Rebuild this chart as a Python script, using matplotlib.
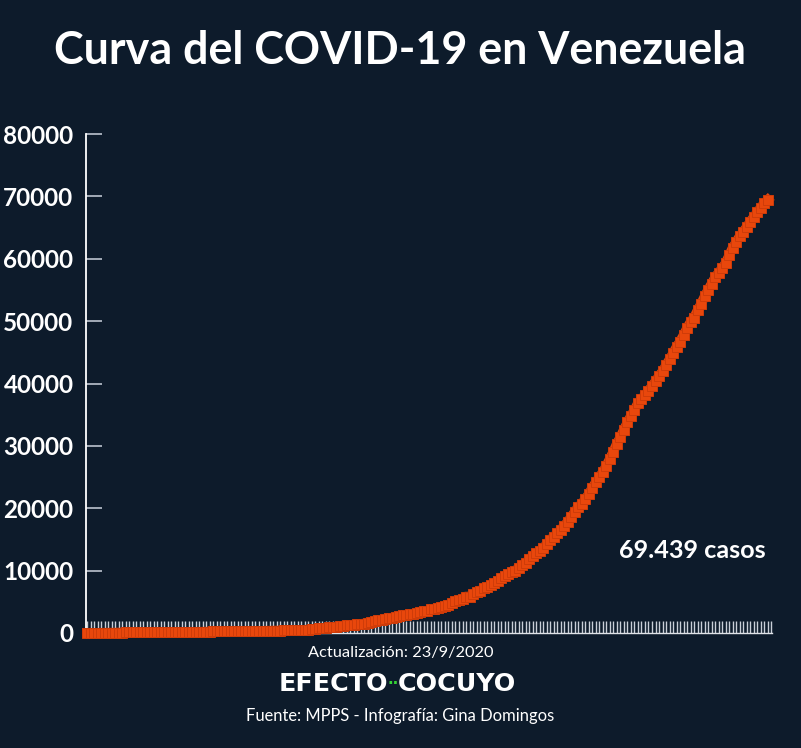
import numpy as np
from matplotlib import pyplot as plt

# Casos acumulados, del 13/3/2020 al 23/9/2020 (un valor por dia)
casos_marzo = [2, 10, 17, 33, 36, 36, 42, 42, 70, 77, 77, 84, 91, 107, 107, 119, 119, 135, 135]
casos_abril = [143, 146, 153, 155, 159, 165, 166, 167, 171, 175, 181, 181, 189, 189, 197,
               204, 227, 256, 256, 285, 288, 298, 311, 318, 323, 325, 329, 329, 331, 333]
casos_mayo = [335, 345, 357, 361, 379, 381, 388, 402, 414, 422, 440, 455, 459, 504, 541,
              611, 618, 749, 749, 824, 882, 944, 1010, 1121, 1177, 1211, 1245, 1325, 1370, 1459, 1510]
casos_junio = [1662, 1819, 1952, 2087, 2145, 2316, 2377, 2473, 2632, 2738, 2814, 2879, 2978, 3062, 3150,
               3386, 3483, 3591, 3789, 3917, 4048, 4186, 4365, 4563, 4779, 5130, 5297, 5530, 5832, 5832]
casos_julio = [6273, 6537, 6750, 7169, 7411, 7693, 8010, 8372, 8803, 9178, 9465, 9707, 10010, 10428, 10854,
               11191, 11891, 12334, 12774, 13164, 13613, 14263, 14929, 15463, 15988, 16571, 17158, 17859,
               18574, 19443, 20206]
casos_agosto = [20754, 21438, 22299, 23280, 24166, 24961, 25805, 26800, 27938, 29088, 30369, 31381, 32607,
                33755, 34802, 35697, 36868, 37489, 38140, 38840, 39564, 40338, 41193, 41939, 42898, 43879,
                44825, 45868, 46728, 47756, 48883]
casos_sept = [49877, 50574, 51739, 52769, 53958, 55012, 55990, 57003, 57793, 58441, 59316, 60540, 61770,
              62655, 63626, 64284, 65114, 65907, 66701, 67428, 68200, 68883, 69439]

casos = casos_marzo + casos_abril + casos_mayo + casos_junio + casos_julio + casos_agosto + casos_sept
dias = np.arange(len(casos))

y_ticks = [0, 10000, 20000, 30000, 40000, 50000, 60000, 70000, 80000]

fondo = '#0d1b2b'
naranja = '#e8470c'

fig = plt.figure(figsize=(8.01, 7.48), dpi=100, facecolor=fondo)
ax = fig.add_axes([86 / 801, 1 - 633 / 748, (772 - 86) / 801, (633 - 134) / 748])
ax.set_facecolor(fondo)

# =================== Curva
ax.plot(dias, casos, color=naranja, linewidth=7, marker='s', markersize=6.5,
        markerfacecolor=naranja, markeredgecolor='#cf3c09', markeredgewidth=0.7,
        solid_joinstyle='miter', zorder=3, clip_on=False)

ax.set_xlim(-0.3, 195.2)
ax.set_ylim(0, 80000)

# =================== Ejes
ax.set_xticks(np.arange(len(casos) + 1))
ax.set_xticklabels([])
ax.tick_params(axis='x', direction='in', length=9, width=1, color='#c9cfd8')
ax.set_yticks(y_ticks)
ax.set_yticklabels([str(v) for v in y_ticks])
ax.tick_params(axis='y', direction='in', length=11.5, width=1.3, color='#aeb7c2',
               labelcolor='white', labelsize=17.5, pad=9)
for lbl in ax.get_yticklabels():
    lbl.set_fontfamily('Lato')
    lbl.set_fontweight('bold')

for lado in ['top', 'right']:
    ax.spines[lado].set_visible(False)
ax.spines['left'].set_color('white')
ax.spines['left'].set_linewidth(1.3)
ax.spines['bottom'].set_color('#dfe3e8')
ax.spines['bottom'].set_linewidth(1)

# =================== Textos
fig.text(0.5, 1 - 51 / 748, 'Curva del COVID-19 en Venezuela', color='white', fontsize=32.3,
         fontweight='bold', family='Lato', ha='center', va='center')
fig.text(766 / 801, 1 - 550 / 748, '69.439 casos', color='white',
         fontsize=18.2, fontweight='bold', family='Lato', ha='right', va='center')
fig.text(0.5, 1 - 653 / 748, 'Actualización: 23/9/2020', color='white', fontsize=11.8,
         family='Lato', ha='center', va='center')
fig.text(388 / 801, 1 - 684 / 748, 'EFECTO', color='white', fontsize=18.3,
         fontweight='bold', family='DejaVu Sans', ha='right', va='center')
fig.text(393 / 801, 1 - 683 / 748, '··', color='#35d435', fontsize=11,
         fontweight='bold', family='DejaVu Sans', ha='center', va='center')
fig.text(398 / 801, 1 - 684 / 748, 'COCUYO', color='white', fontsize=18.3,
         fontweight='bold', family='DejaVu Sans', ha='left', va='center')
fig.text(0.5, 1 - 716 / 748, 'Fuente: MPPS - Infografía: Gina Domingos', color='white', fontsize=11.9,
         family='Lato', ha='center', va='center')

fig.savefig('out.png', dpi=100, facecolor=fondo)
